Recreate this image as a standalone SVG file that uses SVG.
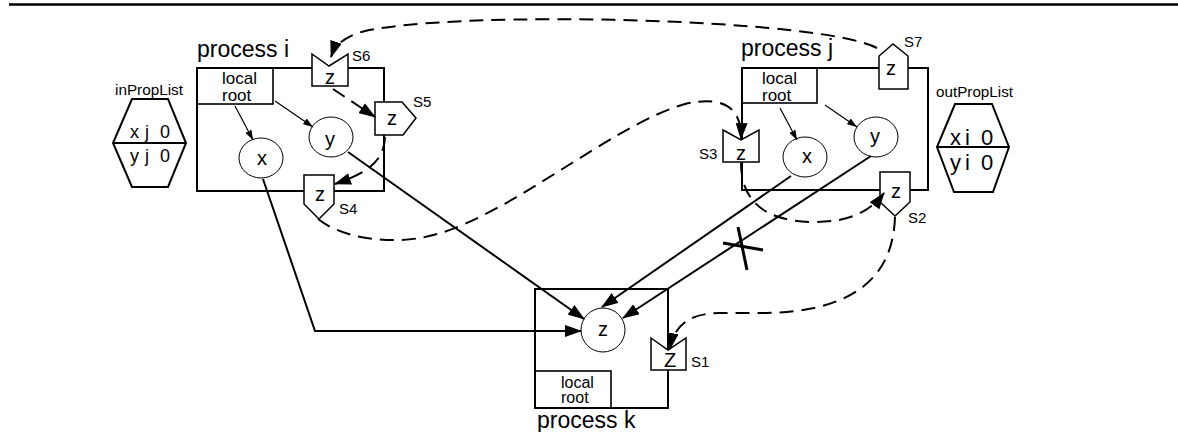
<svg xmlns="http://www.w3.org/2000/svg" width="1178" height="432" viewBox="0 0 1178 432">
<style>
text{font-family:"Liberation Sans",Arial,sans-serif;fill:#000}
.box{fill:#fff;stroke:#000;stroke-width:2}
.lr{fill:none;stroke:#000;stroke-width:1.6}
.sh{fill:#fff;stroke:#000;stroke-width:1.5}
.el{fill:#fff;stroke:#000;stroke-width:1}
.hex{fill:#fff;stroke:#000;stroke-width:2}
.proc{font-size:23px}
.loc{font-size:17px}
.var{font-size:20px;text-anchor:middle}
.sl{font-size:15px}
.pl{font-size:14px}
.thick{fill:none;stroke:#000;stroke-width:2;marker-end:url(#big)}
.thin{fill:none;stroke:#000;stroke-width:1.2;marker-end:url(#small)}
.dash{fill:none;stroke:#000;stroke-width:2;stroke-dasharray:14 8;marker-end:url(#big)}
</style>
<defs>
<marker id="big" viewBox="0 0 17 12" refX="16" refY="6" markerWidth="17" markerHeight="12" orient="auto" markerUnits="userSpaceOnUse"><path d="M0,0 L17,6 L0,12 z" fill="#000"/></marker>
<marker id="small" viewBox="0 0 10 7" refX="10" refY="3.5" markerWidth="10" markerHeight="7" orient="auto" markerUnits="userSpaceOnUse"><path d="M0,0 L10,3.5 L0,7 z" fill="#000"/></marker>
</defs>
<line x1="9" y1="4.5" x2="1178" y2="4.5" stroke="#000" stroke-width="2.5"/>

<g id="inPropList">
<text class="pl" x="115" y="95" textLength="68" lengthAdjust="spacingAndGlyphs">inPropList</text>
<polygon class="hex" points="132,99 168,99 186,143 168,187 132,187 113,143"/>
<line x1="113" y1="143" x2="186" y2="143" stroke="#000" stroke-width="2"/>
<text style="font-size:18px" y="138"><tspan x="130">x</tspan><tspan x="145">j</tspan><tspan x="160">0</tspan></text>
<text style="font-size:18px" y="162"><tspan x="130">y</tspan><tspan x="145">j</tspan><tspan x="160">0</tspan></text>
</g>

<g id="process-i">
<rect class="box" x="197" y="68" width="187" height="123"/>
<rect class="lr" x="197" y="68" width="76" height="36"/>
<text class="loc" x="222" y="84">local</text>
<text class="loc" x="222" y="101">root</text>
<text class="proc" x="197" y="57">process i</text>
</g>
<g id="x-i"><ellipse class="el" cx="261" cy="158" rx="22" ry="20"/><text class="var" x="262" y="165">x</text></g>
<g id="y-i"><ellipse class="el" cx="331" cy="137" rx="22" ry="20"/><text class="var" x="330" y="146">y</text></g>
<g id="S6"><polygon class="sh" points="312,54 329,66 348,54 348,86 312,86"/><text class="var" x="330" y="84">z</text><text class="sl" x="352" y="61">S6</text></g>
<g id="S5"><polygon class="sh" points="375,102 402,102 416,118 403,135 375,135"/><text class="var" x="392" y="125">z</text><text class="sl" x="413" y="107">S5</text></g>
<g id="S4"><polygon class="sh" points="304,175 334,175 334,204 319,219 304,204"/><text class="var" x="320" y="201">z</text><text class="sl" x="339" y="214">S4</text></g>

<g id="process-j">
<rect class="box" x="742" y="68" width="186" height="122"/>
<rect class="lr" x="742" y="68" width="75" height="35"/>
<text class="loc" x="762" y="84">local</text>
<text class="loc" x="762" y="101">root</text>
<text class="proc" x="741" y="56">process j</text>
</g>
<g id="x-j"><ellipse class="el" cx="805" cy="157" rx="22" ry="20"/><text class="var" x="807" y="163">x</text></g>
<g id="y-j"><ellipse class="el" cx="876" cy="137" rx="22" ry="20"/><text class="var" x="875" y="143">y</text></g>
<g id="S7"><polygon class="sh" points="879,56 893,44 908,56 908,89 879,89"/><text class="var" x="891" y="75">z</text><text class="sl" x="904" y="47">S7</text></g>
<g id="S3"><polygon class="sh" points="723,130 741,140 759,130 759,162 723,162"/><text class="var" x="741" y="160">z</text><text class="sl" x="699" y="159">S3</text></g>
<g id="S2"><polygon class="sh" points="880,172 910,172 910,202 895,216 880,202"/><text class="var" x="896" y="198">z</text><text class="sl" x="908" y="223">S2</text></g>

<g id="outPropList">
<text class="pl" x="936" y="97" textLength="77" lengthAdjust="spacingAndGlyphs">outPropList</text>
<polygon class="hex" points="955,104 992,104 1009,147 993,192 954,192 937,147"/>
<line x1="937" y1="147" x2="1009" y2="147" stroke="#000" stroke-width="2"/>
<text style="font-size:22px" y="145"><tspan x="950">x</tspan><tspan x="965">i</tspan><tspan x="981">0</tspan></text>
<text style="font-size:22px" y="170"><tspan x="950">y</tspan><tspan x="965">i</tspan><tspan x="981">0</tspan></text>
</g>

<g id="process-k">
<rect class="box" x="535" y="289" width="133" height="119"/>
<rect class="lr" x="535" y="371" width="76" height="37"/>
<text style="font-size:16px" x="561" y="388">local</text>
<text style="font-size:16px" x="561" y="403">root</text>
<text class="proc" x="537" y="428">process k</text>
</g>
<g id="z-k"><ellipse class="el" cx="603" cy="330" rx="22" ry="22"/><text class="var" x="603" y="336">z</text></g>
<g id="S1"><polygon class="sh" points="651,338 668,350 686,338 686,370 651,370"/><text class="var" x="670" y="367">Z</text><text class="sl" x="691" y="367">S1</text></g>

<g id="connectors">
<path class="thin" d="M235,106 L253,140"/>
<path class="thin" d="M275,101 L313,127"/>
<path class="thin" d="M780,108 L797,140"/>
<path class="thin" d="M825,105 L857,127"/>
<path class="thick" d="M263,179 L315,331 L581,331"/>
<path class="thick" d="M348,152 L584,319"/>
<path class="thick" d="M791,176 L602,307"/>
<path class="thick" d="M871,156 L623,318"/>
<path class="dash" d="M877,48 C820,18 460,10 365,31 C345,36 335,45 331,57"/>
<path class="dash" d="M333,89 L375,117"/>
<path class="dash" d="M385,137 C384,160 370,172 335,184"/>
<path class="dash" d="M318,219 C345,240 390,243 420,238 C500,225 610,125 685,104 C728,94 742,112 741,139"/>
<path class="dash" d="M741,163 C741,205 770,222 815,222 C848,222 870,212 884,193"/>
<path class="dash" d="M895,217 C893,280 850,313 760,313 L720,313 C690,313 674,325 670,349"/>
<line x1="723" y1="243" x2="763" y2="250" stroke="#000" stroke-width="3"/>
<line x1="738" y1="227" x2="747" y2="270" stroke="#000" stroke-width="3"/>
</g>
</svg>
